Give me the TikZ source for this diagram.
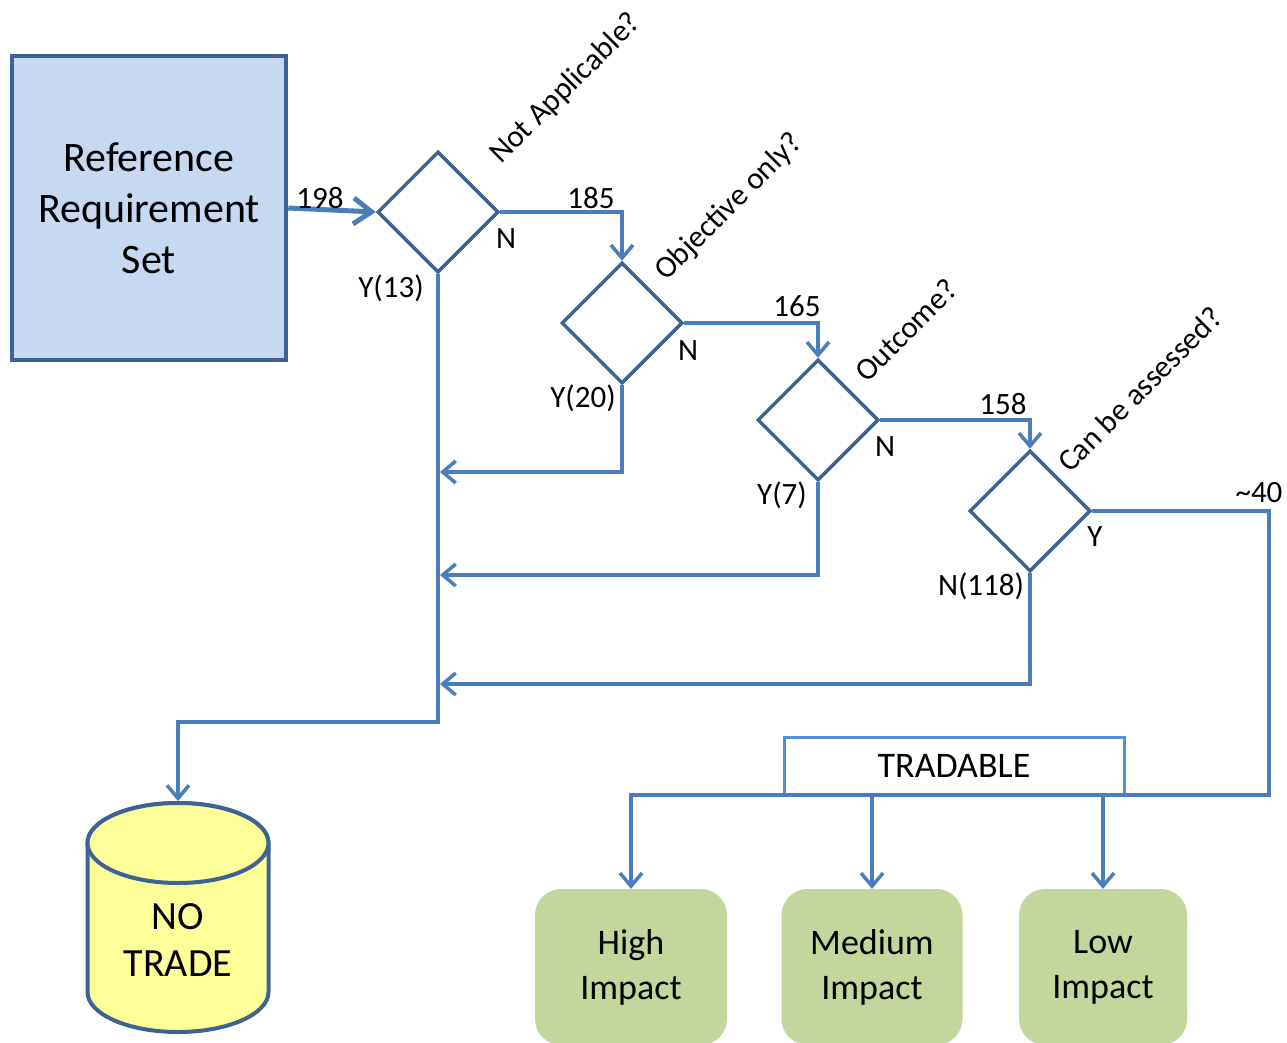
\documentclass[tikz,border=0pt]{standalone}
\usepackage{fontspec}
\setmainfont{Carlito}
\usetikzlibrary{shapes.geometric}
\usetikzlibrary{arrows.meta}

\definecolor{lineblue}{HTML}{4A7EBB}
\definecolor{edgeblue}{HTML}{3D6294}
\definecolor{reffill}{HTML}{C6D9F1}
\definecolor{tradefill}{HTML}{FFFF99}
\definecolor{impactfill}{HTML}{C3D69B}
\definecolor{tradeblue}{HTML}{558ED5}

\begin{document}
\begin{tikzpicture}[x=1pt,y=-1pt,
    decision/.style={diamond,draw=edgeblue,line width=3.5pt,minimum size=121pt,inner sep=0pt},
    flow/.style={draw=lineblue,line width=3.5pt,-{Straight Barb[length=13pt,width=22pt]}},
    lbl/.style={font=\fontsize{31}{36}\selectfont,inner sep=0pt},
    question/.style={font=\fontsize{31}{36}\selectfont,rotate=45,anchor=base west,inner sep=0pt},
    drum/.style={draw=edgeblue,fill=tradefill,line width=4pt,line join=round},
    impact/.style={rounded corners=26pt,fill=impactfill,align=center,minimum height=156pt,font=\fontsize{36}{45}\selectfont}]

    \useasboundingbox (0,0) rectangle (1287,1042);
    \clip (0,0) rectangle (1287,1042);

    \node[draw=edgeblue,fill=reffill,line width=4.5pt,minimum width=274pt,minimum height=304pt,align=center,font=\fontsize{42}{51}\selectfont] (refset) at (149,208) {Reference\\Requirement\\Set};

    \node[decision] (na)     at (438,212)  {};
    \node[decision] (obj)    at (622,323)  {};
    \node[decision] (outc)   at (818,420)  {};
    \node[decision] (assess) at (1030,511) {};

    \node[question] (qna)     at (501,165)  {Not Applicable?};
    \node[question] (qobj)    at (666,282)  {Objective only?};
    \node[question] (qoutc)   at (867,384)  {Outcome?};
    \node[question] (qassess) at (1070,474) {Can be assessed?};

    % no trade drum
    \draw[drum] (87.5,843) -- (87.5,992)
        arc[start angle=180,end angle=360,x radius=90.5pt,y radius=40pt] -- (268.5,843)
        arc[start angle=0,end angle=180,x radius=90.5pt,y radius=40pt] -- cycle;
    \draw[drum] (178,843) ellipse[x radius=90.5pt,y radius=40pt];
    \coordinate (notradetop) at (178,801);
    \node[align=center,font=\fontsize{40}{47}\selectfont] (notrade) at (178,940) {NO\\TRADE};

    \node[draw=tradeblue,fill=white,line width=3pt,minimum width=340pt,minimum height=58pt,font=\fontsize{36}{40}\selectfont] (tradable) at (954,766) {TRADABLE};

    \node[impact,minimum width=192pt] (high)   at (631,967)  {High\\Impact};
    \node[impact,minimum width=181pt] (medium) at (872,967)  {Medium\\Impact};
    \node[impact,minimum width=168pt] (low)    at (1103,967) {Low\\Impact};

    \coordinate (m1)    at (440,472);
    \coordinate (m2)    at (440,575);
    \coordinate (m3)    at (440,684);
    \coordinate (down)  at (438,722);
    \coordinate (ybend) at (1269,795);

    \draw[flow,line width=5pt,-{Straight Barb[length=18pt,width=26pt]}] (refset.east) -- (na.west);
    \draw[flow] (na.east) -| (obj.north);
    \draw[flow] (obj.east) -| (outc.north);
    \draw[flow] (outc.east) -| (assess.north);
    \draw[flow] (obj.south) |- (m1);
    \draw[flow] (outc.south) |- (m2);
    \draw[flow] (assess.south) |- (m3);
    \draw[flow] (na.south) -- (down) -| (notradetop);
    \draw[flow] (assess.east) -| (ybend) -| (high.north);
    \draw[flow] (tradable.south -| medium.north) -- (medium.north);
    \draw[flow] (tradable.south -| low.north) -- (low.north);

    \node[lbl] (l198)  at (320,198)  {198};
    \node[lbl] (l185)  at (591,198)  {185};
    \node[lbl] (l165)  at (797,306)  {165};
    \node[lbl] (l158)  at (1003,404) {158};
    \node[lbl] (l40)   at (1259,493) {\textasciitilde 40};
    \node[lbl] (nna)   at (506,239)  {N};
    \node[lbl] (nobj)  at (688,351)  {N};
    \node[lbl] (noutc) at (885,447)  {N};
    \node[lbl] (yas)   at (1095,537) {Y};
    \node[lbl] (yna)   at (391,288)  {Y(13)};
    \node[lbl] (yobj)  at (583,398)  {Y(20)};
    \node[lbl] (youtc) at (782,495)  {Y(7)};
    \node[lbl] (nas)   at (981,586)  {N(118)};
\end{tikzpicture}
\end{document}
